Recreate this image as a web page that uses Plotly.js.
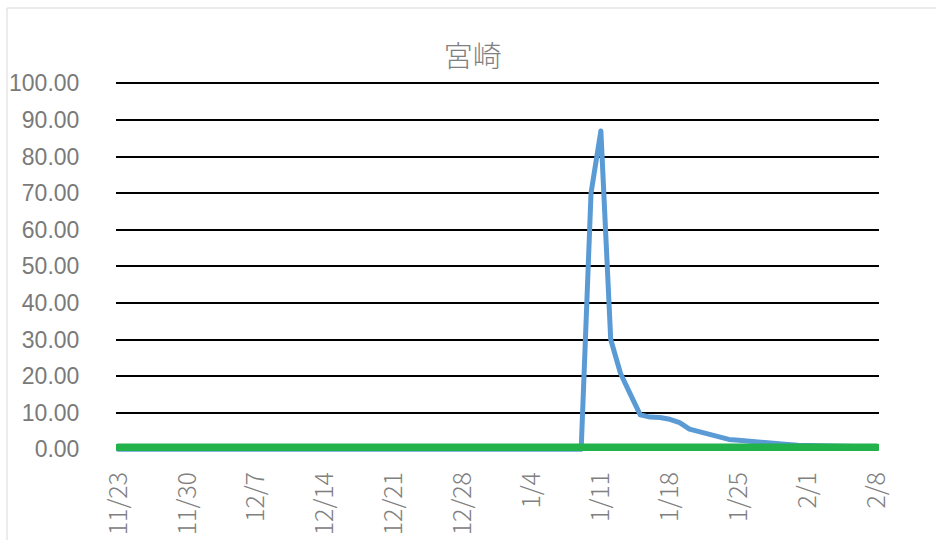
<!DOCTYPE html>
<html>
<head>
<meta charset="utf-8">
<script src="https://cdn.plot.ly/plotly-3.0.1.min.js"></script>
<style>html,body{margin:0;padding:0;background:#fff;}#chart{width:936px;height:540px;}</style>
</head>
<body>
<div id="chart"></div>
<script>
// Dates 11/23 .. 2/8 (daily)
const dates = [
"2020-11-23","2020-11-24","2020-11-25","2020-11-26","2020-11-27","2020-11-28","2020-11-29",
"2020-11-30","2020-12-01","2020-12-02","2020-12-03","2020-12-04","2020-12-05","2020-12-06",
"2020-12-07","2020-12-08","2020-12-09","2020-12-10","2020-12-11","2020-12-12","2020-12-13",
"2020-12-14","2020-12-15","2020-12-16","2020-12-17","2020-12-18","2020-12-19","2020-12-20",
"2020-12-21","2020-12-22","2020-12-23","2020-12-24","2020-12-25","2020-12-26","2020-12-27",
"2020-12-28","2020-12-29","2020-12-30","2020-12-31","2021-01-01","2021-01-02","2021-01-03",
"2021-01-04","2021-01-05","2021-01-06","2021-01-07","2021-01-08","2021-01-09","2021-01-10",
"2021-01-11","2021-01-12","2021-01-13","2021-01-14","2021-01-15","2021-01-16","2021-01-17",
"2021-01-18","2021-01-19","2021-01-20","2021-01-21","2021-01-22","2021-01-23","2021-01-24",
"2021-01-25","2021-01-26","2021-01-27","2021-01-28","2021-01-29","2021-01-30","2021-01-31",
"2021-02-01","2021-02-02","2021-02-03","2021-02-04","2021-02-05","2021-02-06","2021-02-07",
"2021-02-08"];

const blueValues = [
0,0,0,0,0,0,0,
0,0,0,0,0,0,0,
0,0,0,0,0,0,0,
0,0,0,0,0,0,0,
0,0,0,0,0,0,0,
0,0,0,0,0,0,0,
0,0,0,0,0,0,70,
87,30,20.7,15,9.4,8.8,8.7,
8.2,7.3,5.5,4.8,3.8,3.3,2.7,
2.5,2.2,2.0,1.7,1.5,1.3,1.1,
1.0,0.9,0.8,0.8,0.7,0.7,0.6,
0.6];

const greenValues = dates.map(() => 0.55);

const tickDates = ["2020-11-23","2020-11-30","2020-12-07","2020-12-14","2020-12-21","2020-12-28",
"2021-01-04","2021-01-11","2021-01-18","2021-01-25","2021-02-01","2021-02-08"];
const tickLabels = ["11/23","11/30","12/7","12/14","12/21","12/28","1/4","1/11","1/18","1/25","2/1","2/8"];
const yTicks = [0,10,20,30,40,50,60,70,80,90,100];
const yTickLabels = ["0.00","10.00","20.00","30.00","40.00","50.00","60.00","70.00","80.00","90.00","100.00"];

const traces = [
  {x: dates, y: blueValues, type: "scatter", mode: "lines",
   line: {color: "#5b9bd5", width: 5}, hoverinfo: "skip", showlegend: false},
  {x: dates, y: greenValues, type: "scatter", mode: "lines",
   line: {color: "#21b24c", width: 7.5}, hoverinfo: "skip", showlegend: false}
];

const L = 116, R = 57, T = 82, B = 83;
const W = 936 - L - R, H = 540 - T - B;

const layout = {
  width: 936, height: 540,
  margin: {l: L, r: R, t: T, b: B, pad: 0},
  paper_bgcolor: "#ffffff", plot_bgcolor: "#ffffff",
  showlegend: false,
  title: {text: "宮崎", x: 0.505, xref: "container", xanchor: "center",
          y: 1 - 57/540, yref: "container", yanchor: "middle",
          font: {family: "Noto Sans CJK JP", size: 29, weight: 300, color: "#808080"}},
  xaxis: {type: "date", range: ["2020-11-22 18:00", "2021-02-08 06:00"],
          tickmode: "array", tickvals: tickDates, ticktext: tickLabels,
          tickangle: -90, showgrid: false, zeroline: false, showline: false,
          ticks: "outside", ticklen: 4, tickcolor: "rgba(0,0,0,0)",
          tickfont: {family: "Noto Sans CJK JP", size: 25, weight: 300, color: "#808080"}},
  yaxis: {range: [-2.10, 100.36], tickmode: "array", tickvals: yTicks, ticktext: yTickLabels,
          showgrid: true, gridcolor: "#000000", gridwidth: 2, zeroline: false, showline: false,
          ticks: "outside", ticklen: 31, tickcolor: "rgba(0,0,0,0)",
          tickfont: {family: "Liberation Sans, Arial, sans-serif", size: 23, color: "#7a7a7a"}},
  shapes: [
    {type: "rect", xref: "paper", yref: "paper",
     x0: (7 - L) / W, x1: (945 - L) / W,
     y0: (T + H - 548) / H, y1: (T + H - 8) / H,
     line: {color: "#d9d9d9", width: 1}, fillcolor: "rgba(0,0,0,0)", layer: "below"}
  ]
};

Plotly.newPlot("chart", traces, layout, {staticPlot: true}).then(() => {
  document.querySelectorAll(".scatterlayer .js-line").forEach(p => {
    p.style.strokeLinecap = "round";
    p.style.strokeLinejoin = "round";
  });
});
</script>
</body>
</html>
